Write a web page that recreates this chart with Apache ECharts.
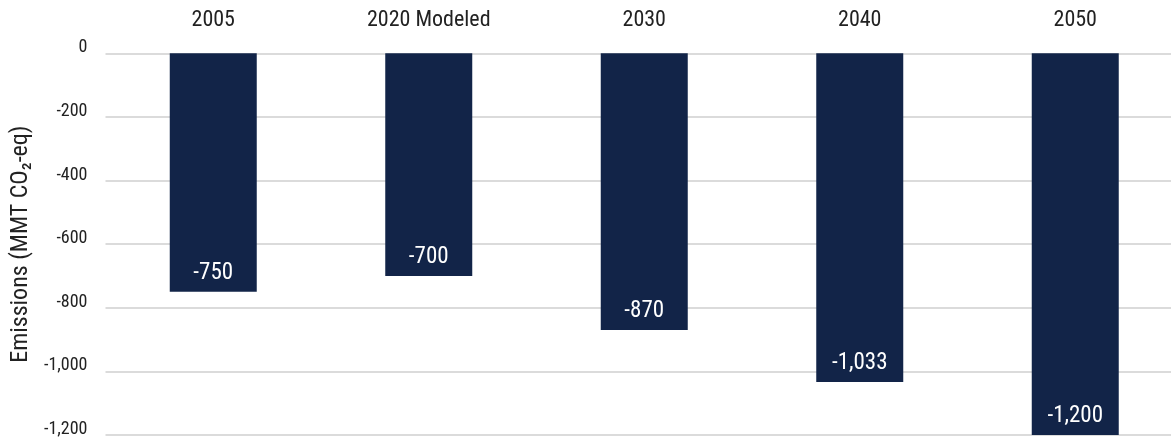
<!DOCTYPE html>
<html>
<head>
<meta charset="utf-8">
<script src="https://cdn.jsdelivr.net/npm/echarts@6/dist/echarts.min.js"></script>
<style>
html,body{margin:0;padding:0;background:#fff;}
#chart{width:1171px;height:438px;}
</style>
</head>
<body>
<div id="chart"></div>
<script>
const categories = ['2005', '2020 Modeled', '2030', '2040', '2050'];
const emissions = [-750, -700, -870, -1033, -1200];
const yTicks = [0, -200, -400, -600, -800, -1000, -1200];

const FONT = '"Roboto Condensed", "Liberation Sans Narrow", Roboto, sans-serif';
function fmt(v) {
  const s = Math.abs(v).toString().replace(/\B(?=(\d{3})+(?!\d))/g, ',');
  return (v < 0 ? '-' : '') + s;
}

const chart = echarts.init(document.getElementById('chart'));
chart.setOption({
  animation: false,
  backgroundColor: '#ffffff',
  grid: { left: 105.5, top: 53.3, width: 1077.5, height: 381.7, containLabel: false, outerBoundsMode: 'none' },
  xAxis: {
    type: 'category',
    data: categories,
    position: 'top',
    axisLine: { show: false },
    axisTick: { show: false },
    axisLabel: { color: '#222222', fontSize: 22, fontFamily: FONT, margin: 22 }
  },
  yAxis: {
    type: 'value',
    min: yTicks[yTicks.length - 1],
    max: yTicks[0],
    interval: 200,
    name: 'Emissions (MMT CO₂-eq)',
    nameLocation: 'middle',
    nameGap: 65,
    nameTextStyle: { color: '#222222', fontSize: 24, fontFamily: FONT },
    axisLine: { show: false },
    axisTick: { show: false },
    axisLabel: {
      color: '#222222', fontSize: 18, fontFamily: FONT, margin: 18,
      formatter: v => '{t|' + fmt(v) + '}',
      rich: { t: { fontSize: 18, fontFamily: FONT, color: '#222222', padding: [0, 0, 11, 0] } }
    },
    splitLine: { lineStyle: { color: '#cfcfcf', width: 1.5 } }
  },
  series: [{
    type: 'bar',
    data: emissions,
    barWidth: 87,
    itemStyle: { color: '#122448' },
    label: {
      show: true,
      position: 'insideBottom',
      distance: 7,
      color: '#ffffff',
      fontSize: 23,
      fontFamily: FONT,
      formatter: p => fmt(p.value)
    }
  }]
});
</script>
</body>
</html>
